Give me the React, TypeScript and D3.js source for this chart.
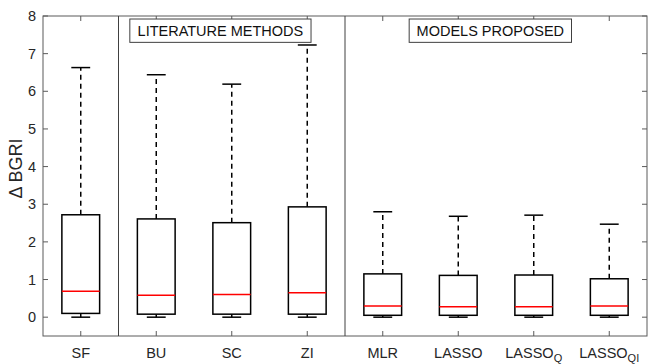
import React from 'react';
import { scaleLinear, range } from 'd3';

// box stats
const categories = ['SF', 'BU', 'SC', 'ZI', 'MLR', 'LASSO', 'LASSO_Q', 'LASSO_QI'];
const whiskerLow = [0.0, 0.0, 0.0, 0.0, 0.0, 0.0, 0.0, 0.0];
const q1 = [0.1, 0.08, 0.08, 0.08, 0.05, 0.05, 0.05, 0.05];
const medians = [0.69, 0.58, 0.6, 0.65, 0.3, 0.28, 0.28, 0.3];
const q3 = [2.72, 2.61, 2.51, 2.93, 1.15, 1.11, 1.12, 1.02];
const whiskerHigh = [6.63, 6.44, 6.19, 7.23, 2.8, 2.68, 2.71, 2.47];
const yTicks = range(0, 9);
const separators = [1.5, 4.5];
const groupLabels = [
  { text: 'LITERATURE METHODS', x0: 1.65, x1: 4.05 },
  { text: 'MODELS PROPOSED', x0: 5.35, x1: 7.5 },
];

const W = 648;
const H = 364;
const pad = { left: 43, right: 1, top: 16, bottom: 28 };
const font = '"Liberation Sans", Arial, Helvetica, sans-serif';
const axisColor = '#5a5a5a';

const App = () => {
  const x = scaleLinear().domain([0.5, 8.5]).range([pad.left, W - pad.right]);
  const y = scaleLinear().domain([-0.5, 8]).range([H - pad.bottom, pad.top]);
  const boxW = x(1.25) - x(1);
  const capW = x(1.125) - x(1);
  const tick = 5;

  const label = (c: string) => {
    const [base, sub] = c.split('_');
    return (
      <>
        {base}
        {sub && <tspan dy={4} fontSize={11}>{sub}</tspan>}
      </>
    );
  };

  return (
    <svg width={W} height={H} style={{ position: 'absolute', left: 0, top: 0, background: '#fff' }}
      fontFamily={font}>
      <rect x={0} y={0} width={W} height={H} fill="#fff" />
      {/* frame */}
      <rect x={x(0.5)} y={y(8)} width={x(8.5) - x(0.5)} height={y(-0.5) - y(8)}
        fill="none" stroke={axisColor} strokeWidth={1} />
      {yTicks.map(t => (
        <g key={t}>
          <line x1={x(0.5)} x2={x(0.5) + tick} y1={y(t)} y2={y(t)} stroke={axisColor} />
          <line x1={x(8.5)} x2={x(8.5) - tick} y1={y(t)} y2={y(t)} stroke={axisColor} />
          <text x={x(0.5) - 7} y={y(t)} dy="0.35em" textAnchor="end" fontSize={14.5} fill="#262626">{t}</text>
        </g>
      ))}
      {categories.map((c, i) => (
        <g key={c}>
          <line x1={x(i + 1)} x2={x(i + 1)} y1={y(-0.5)} y2={y(-0.5) - tick} stroke={axisColor} />
          <line x1={x(i + 1)} x2={x(i + 1)} y1={y(8)} y2={y(8) + tick} stroke={axisColor} />
          <text x={x(i + 1)} y={H - 6} textAnchor="middle" fontSize={14.5} fill="#262626">{label(c)}</text>
        </g>
      ))}
      {separators.map(s => (
        <line key={s} x1={x(s)} x2={x(s)} y1={y(8)} y2={y(-0.5)} stroke="#404040" strokeWidth={1} />
      ))}
      {groupLabels.map(g => (
        <g key={g.text}>
          <rect x={x(g.x0)} y={y(7.92)} width={x(g.x1) - x(g.x0)} height={y(7.3) - y(7.92)}
            fill="#fff" stroke="#404040" strokeWidth={1} />
          <text x={(x(g.x0) + x(g.x1)) / 2} y={(y(7.92) + y(7.3)) / 2} dy="0.36em"
            textAnchor="middle" fontSize={14.5} fill="#111">{g.text}</text>
        </g>
      ))}
      {categories.map((c, i) => {
        const cx = x(i + 1);
        return (
          <g key={c} stroke="#000" strokeWidth={1.5} fill="none">
            <line x1={cx} x2={cx} y1={y(q3[i])} y2={y(whiskerHigh[i])} strokeDasharray="5,4" />
            <line x1={cx} x2={cx} y1={y(q1[i])} y2={y(whiskerLow[i])} strokeDasharray="5,4" />
            <line x1={cx - capW} x2={cx + capW} y1={y(whiskerHigh[i])} y2={y(whiskerHigh[i])} />
            <line x1={cx - capW} x2={cx + capW} y1={y(whiskerLow[i])} y2={y(whiskerLow[i])} />
            <rect x={cx - boxW} y={y(q3[i])} width={2 * boxW} height={y(q1[i]) - y(q3[i])} />
            <line x1={cx - boxW} x2={cx + boxW} y1={y(medians[i])} y2={y(medians[i])}
              stroke="#ff0000" />
          </g>
        );
      })}
      <text transform={`translate(${22},${y(3.95)}) rotate(-90)`} textAnchor="middle"
        fontSize={18} fill="#262626">Δ BGRI</text>
    </svg>
  );
};

export default App;
